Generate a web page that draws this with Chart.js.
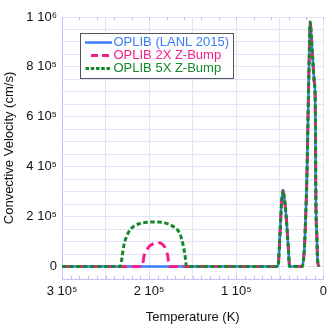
<!DOCTYPE html>
<html>
<head>
<meta charset="utf-8">
<script src="https://cdn.jsdelivr.net/npm/chart.js@4.4.1/dist/chart.umd.min.js"></script>
<style>
html, body { margin: 0; padding: 0; background: #fff; }
</style>
</head>
<body>
<canvas id="chart" width="332" height="329"></canvas>
<script>
// temperature grid (K), shared by all three runs
const temperatureK = [
  300000, 240000, 233000, 231000, 229000, 227000, 224000, 221000, 216000, 210000,
  208000, 206000, 203000, 200000, 195000, 190000, 186000, 182500, 180000, 178500,
  177000, 174000, 170000, 167000, 164000, 161500, 159000, 157000, 150000, 60000,
  52100, 50500, 48700, 47300, 46400, 45400, 43000, 40300, 38800, 30000,
  24800, 23500, 21700, 20200, 19000, 17100, 16000, 15200, 14300, 13300,
  12000, 10500, 9500, 9000, 8800, 7500, 6500, 5000
]

// convective velocity (cm/s)
const velOplib = [
  0, 0, 0, 0, 0, 0, 0, 0, 0, 0,
  0, 0, 0, 0, 0, 0, 0, 0, 0, 0,
  0, 0, 0, 0, 0, 0, 0, 0, 0, 0,
  0, 80000, 213000, 285000, 304000, 290000, 213000, 80000, 0, 0,
  0, 10000, 80000, 213000, 347000, 695000, 880000, 980000, 950000, 890000,
  820000, 740000, 690000, 520000, 347000, 120000, 20000, 0
]
const vel2x = [
  0, 0, 0, 0, 0, 0, 0, 0, 0, 0,
  0, 40000, 65000, 80000, 92000, 96000, 92000, 80000, 60000, 40000,
  0, 0, 0, 0, 0, 0, 0, 0, 0, 0,
  0, 80000, 213000, 285000, 304000, 290000, 213000, 80000, 0, 0,
  0, 10000, 80000, 213000, 347000, 695000, 880000, 980000, 950000, 890000,
  820000, 740000, 690000, 520000, 347000, 120000, 20000, 0
]
const vel5x = [
  0, 0, 0, 40000, 85000, 110000, 135000, 150000, 165000, 173000,
  175000, 176000, 177000, 178000, 178000, 178000, 177000, 175000, 173000, 171000,
  169000, 164000, 155000, 145000, 125000, 94000, 50000, 0, 0, 0,
  0, 80000, 213000, 285000, 304000, 290000, 213000, 80000, 0, 0,
  0, 10000, 80000, 213000, 347000, 695000, 880000, 980000, 950000, 890000,
  820000, 740000, 690000, 520000, 347000, 120000, 20000, 0
]

const seriesNames = ['OPLIB (LANL 2015)', 'OPLIB 2X Z-Bump', 'OPLIB 5X Z-Bump']
const xLabelTicks = [300000, 200000, 100000, 0]
const yLabelTicks = [0, 200000, 400000, 600000, 800000, 1000000]

const supDigits = { '0': '⁰', '1': '¹', '2': '²', '3': '³', '4': '⁴', '5': '⁵', '6': '⁶', '7': '⁷', '8': '⁸', '9': '⁹' }

function sciLabel(v) {
  if (v === 0) return '0'
  const e = Math.floor(Math.log10(v) + 1e-9)
  const m = Math.round(v / Math.pow(10, e))
  return m + ' 10' + String(e).split('').map(d => supDigits[d]).join('')
}

const toPoints = vals => temperatureK.map((t, i) => ({ x: t, y: vals[i] }))

const fontFamily = '"Liberation Sans", Arial, sans-serif'
Chart.defaults.font.family = fontFamily
Chart.defaults.font.size = 13
Chart.defaults.color = '#111'

// small inward ticks on the bottom and top frame
const frameTicks = {
  id: 'frameTicks',
  beforeDatasetsDraw(chart) {
    const { ctx, chartArea: a, scales: { x } } = chart
    ctx.save()
    ctx.strokeStyle = '#bcbcf0'
    ctx.lineWidth = 1
    ctx.beginPath()
    for (let t = 0; t <= 300000; t += 10000) {
      const px = Math.round(x.getPixelForValue(t)) + 0.5
      ctx.moveTo(px, a.bottom)
      ctx.lineTo(px, a.bottom - 3)
    }
    for (let t = 0; t <= 300000; t += 20000) {
      const px = Math.round(x.getPixelForValue(t)) + 0.5
      ctx.moveTo(px, a.top)
      ctx.lineTo(px, a.top + 3)
    }
    ctx.stroke()
    ctx.restore()
  }
}

// boxed legend inside the plot
const boxLegend = {
  id: 'boxLegend',
  afterDraw(chart, args, opts) {
    const { ctx } = chart
    ctx.save()
    ctx.fillStyle = '#fff'
    ctx.fillRect(opts.left, opts.top, opts.width, opts.height)
    ctx.strokeStyle = '#555'
    ctx.lineWidth = 1
    ctx.strokeRect(opts.left + 0.5, opts.top + 0.5, opts.width - 1, opts.height - 1)
    ctx.font = '13px ' + fontFamily
    ctx.textBaseline = 'middle'
    chart.data.datasets.forEach((ds, i) => {
      const y = opts.top + opts.rowStart + i * opts.rowGap
      const s = opts.samples[i]
      ctx.strokeStyle = ds.borderColor
      ctx.lineWidth = ds.borderWidth
      ctx.setLineDash(s.dash)
      ctx.beginPath()
      ctx.moveTo(s.from, y + 0.5)
      ctx.lineTo(s.to, y + 0.5)
      ctx.stroke()
      ctx.setLineDash([])
      ctx.fillStyle = ds.borderColor
      ctx.fillText(ds.label, opts.textX, y)
    })
    ctx.restore()
  }
}

new Chart(document.getElementById('chart'), {
  type: 'line',
  data: {
    datasets: [
      {
        label: seriesNames[0],
        data: toPoints(velOplib),
        borderColor: '#3a7cf7',
        borderWidth: 2.5,
        order: 3
      },
      {
        label: seriesNames[1],
        data: toPoints(vel2x),
        borderColor: '#f51f8c',
        borderWidth: 3,
        borderDash: [9, 5],
        order: 2
      },
      {
        label: seriesNames[2],
        data: toPoints(vel5x),
        borderColor: '#14892a',
        borderWidth: 3,
        borderDash: [4.5, 2.5],
        order: 1
      }
    ]
  },
  options: {
    responsive: false,
    animation: false,
    devicePixelRatio: 1,
    layout: { padding: { top: 17, right: 7, left: 0, bottom: 0 } },
    elements: {
      point: { radius: 0 },
      line: { cubicInterpolationMode: 'monotone', fill: false }
    },
    plugins: {
      legend: { display: false },
      tooltip: { enabled: false },
      boxLegend: {
        left: 80, top: 33, width: 154, height: 46,
        rowStart: 9, rowGap: 13, textX: 113.5,
        samples: [
          { from: 85, to: 112, dash: [] },
          { from: 91, to: 109, dash: [7, 4] },
          { from: 85.5, to: 110, dash: [3.5, 1.75] }
        ]
      }
    },
    scales: {
      x: {
        type: 'linear',
        reverse: true,
        min: 0,
        max: 300000,
        afterFit: s => { s.height = 50 },
        ticks: {
          stepSize: 50000,
          autoSkip: false,
          maxRotation: 0,
          padding: 5,
          color: '#111',
          callback: v => xLabelTicks.includes(v) ? sciLabel(v) : ''
        },
        grid: { color: '#e2e2f8', drawTicks: false },
        border: { color: '#c3c3f2' },
        title: { display: true, text: 'Temperature (K)', color: '#111', padding: { top: 0, bottom: 4 } }
      },
      y: {
        type: 'linear',
        min: -50000,
        max: 1000000,
        afterFit: s => { s.width = 62 },
        ticks: {
          stepSize: 50000,
          autoSkip: false,
          padding: 5,
          color: '#111',
          callback: v => yLabelTicks.includes(v) ? sciLabel(v) : ''
        },
        grid: { color: '#e2e2f8', drawTicks: false },
        border: { color: '#c3c3f2' },
        title: { display: true, text: 'Convective Velocity (cm/s)', color: '#111', padding: { top: 2, bottom: 0 } }
      }
    }
  },
  plugins: [frameTicks, boxLegend]
})
</script>
</body>
</html>
